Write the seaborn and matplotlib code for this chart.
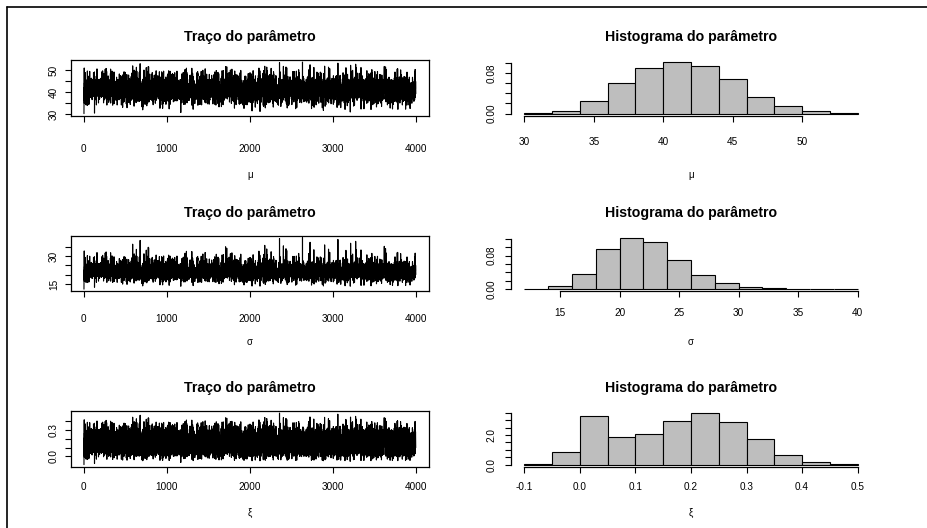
import numpy as np
import pandas as pd
import matplotlib
matplotlib.use("Agg")
import matplotlib.pyplot as plt
from matplotlib.lines import Line2D
import seaborn as sns

# histogram bins and densities
mu_edges = [30, 32, 34, 36, 38, 40, 42, 44, 46, 48, 50, 52, 54]
mu_density = [0.001, 0.006, 0.025, 0.061, 0.090, 0.102, 0.095, 0.069, 0.033, 0.016, 0.006, 0.001]

sigma_edges = [12, 14, 16, 18, 20, 22, 24, 26, 28, 30, 32, 34, 36, 38, 40]
sigma_density = [0.0002, 0.0064, 0.035, 0.094, 0.122, 0.112, 0.069, 0.034, 0.015, 0.005, 0.0024, 0.001, 0.0005, 0.0005]

xi_edges = [-0.10, -0.05, 0.00, 0.05, 0.10, 0.15, 0.20, 0.25, 0.30, 0.35, 0.40, 0.45, 0.50]
xi_density = [0.022, 0.87, 3.29, 1.86, 2.08, 2.93, 3.47, 2.89, 1.72, 0.65, 0.18, 0.02]

n_iter = 4000

# axis ticks and labels
mu_trace_yticks = [30, 35, 40, 45, 50]
mu_trace_ylabels = ["30", "", "40", "", "50"]
sigma_trace_yticks = [15, 20, 25, 30, 35]
sigma_trace_ylabels = ["15", "", "", "30", ""]
xi_trace_yticks = [0.0, 0.1, 0.2, 0.3, 0.4]
xi_trace_ylabels = ["0.0", "", "", "0.3", ""]
trace_xticks = [0, 1000, 2000, 3000, 4000]

mu_hist_xticks = [30, 35, 40, 45, 50]
mu_hist_yticks = [0.00, 0.02, 0.04, 0.06, 0.08, 0.10]
mu_hist_ylabels = ["0.00", "", "", "", "0.08", ""]
sigma_hist_xticks = [15, 20, 25, 30, 35, 40]
sigma_hist_yticks = [0.00, 0.02, 0.04, 0.06, 0.08, 0.10, 0.12]
sigma_hist_ylabels = ["0.00", "", "", "", "0.08", "", ""]
xi_hist_xticks = [-0.1, 0.0, 0.1, 0.2, 0.3, 0.4, 0.5]
xi_hist_xlabels = ["-0.1", "0.0", "0.1", "0.2", "0.3", "0.4", "0.5"]
xi_hist_yticks = [0.0, 0.5, 1.0, 1.5, 2.0, 2.5, 3.0, 3.5]
xi_hist_ylabels = ["0.0", "", "", "", "2.0", "", "", ""]


def chain_from_hist(edges, density, n):
    # spread each bin's count evenly inside the bin, then put the draws in a fixed mixed order
    edges = np.array(edges, dtype=float)
    dens = np.array(density, dtype=float)
    w = np.diff(edges)
    counts = np.round(dens * w / np.sum(dens * w) * n).astype(int)
    vals = []
    for lo, hi, c in zip(edges[:-1], edges[1:], counts):
        if c > 0:
            vals.append(lo + (np.arange(c) + 0.5) / c * (hi - lo))
    vals = np.concatenate(vals)
    idx = np.arange(len(vals), dtype=float)
    order = np.argsort((idx * idx * 0.6180339887 + idx * 0.4142135) % 1.0)
    return vals[order]


chains = {
    "mu": chain_from_hist(mu_edges, mu_density, n_iter),
    "sigma": chain_from_hist(sigma_edges, sigma_density, n_iter),
    "xi": chain_from_hist(xi_edges, xi_density, n_iter),
}

sns.set_style("ticks")
plt.rcParams["font.family"] = ["Liberation Sans", "DejaVu Sans"]
plt.rcParams["text.color"] = "black"
plt.rcParams["axes.edgecolor"] = "black"
plt.rcParams["xtick.color"] = "black"
plt.rcParams["ytick.color"] = "black"

W, H = 928, 528
fig = plt.figure(figsize=(W / 100, H / 100), dpi=100)
fig.patch.set_facecolor("white")

# outer frame: only its left and top edges fall inside the picture
fig.add_artist(Line2D([7 / W, 7 / W], [0, 1 - 7 / H], transform=fig.transFigure, color="black", lw=1.2))
fig.add_artist(Line2D([7 / W, 1], [1 - 7 / H, 1 - 7 / H], transform=fig.transFigure, color="black", lw=1.2))


def add_ax(x0, y0, x1, y1):
    return fig.add_axes([x0 / W, 1 - y1 / H, (x1 - x0) / W, (y1 - y0) / H])


def r_range(lo, hi):
    d = hi - lo
    return lo - 0.04 * d, hi + 0.04 * d


row_tops = [60, 235.5, 411]
row_h = 55.7
left_x = (70.7, 429)
right_x = (511, 871)
tick_fs = 7.2
title_fs = 10.2
trace_pads = [16, 12, 6.5]
hist_pads = [11, 7.5, 6.5]
xlabel_y = [175, 342, 513]

rows = [
    ("mu", "\u03bc", mu_edges, mu_trace_yticks, mu_trace_ylabels, mu_hist_xticks, None,
     mu_hist_yticks, mu_hist_ylabels, (30, 50)),
    ("sigma", "\u03c3", sigma_edges, sigma_trace_yticks, sigma_trace_ylabels, sigma_hist_xticks, None,
     sigma_hist_yticks, sigma_hist_ylabels, (15, 40)),
    ("xi", "\u03be", xi_edges, xi_trace_yticks, xi_trace_ylabels, xi_hist_xticks, xi_hist_xlabels,
     xi_hist_yticks, xi_hist_ylabels, (-0.1, 0.5)),
]

for r, (key, sym, edges, t_yt, t_yl, h_xt, h_xl, h_yt, h_yl, h_xb) in enumerate(rows):
    top = row_tops[r]
    vals = chains[key]
    df = pd.DataFrame({"iter": np.arange(1, len(vals) + 1), "value": vals})

    # trace plot
    ax = add_ax(left_x[0], top, left_x[1], top + row_h)
    sns.lineplot(data=df, x="iter", y="value", color="black", linewidth=0.8,
                 estimator=None, sort=False, ax=ax)
    ax.set_xlim(r_range(1, n_iter))
    ax.set_ylim(r_range(vals.min(), vals.max()))
    ax.set_xticks(trace_xticks)
    ax.set_xticklabels([str(t) for t in trace_xticks])
    ax.set_yticks(t_yt)
    ax.set_yticklabels(t_yl, rotation=90, va="center")
    ax.set_xlabel("")
    ax.set_ylabel("")
    for s in ax.spines.values():
        s.set_linewidth(0.9)
    ax.tick_params(axis="both", direction="out", length=4.5, width=0.8, labelsize=tick_fs)
    ax.tick_params(axis="x", pad=trace_pads[r])
    ax.tick_params(axis="y", pad=4)
    fig.text((left_x[0] + left_x[1]) / 2 / W, 1 - (top - 23) / H, "Traço do parâmetro",
             ha="center", va="center", fontsize=title_fs, fontweight="bold")
    fig.text((left_x[0] + left_x[1]) / 2 / W, 1 - xlabel_y[r] / H, sym,
             ha="center", va="center", fontsize=7)

    # histogram
    ax2 = add_ax(right_x[0], top, right_x[1], top + row_h)
    sns.histplot(x=vals, bins=edges, stat="density", color="#BEBEBE", edgecolor="black",
                 linewidth=0.8, alpha=1.0, ax=ax2)
    ax2.set_xlim(r_range(edges[0], edges[-1]))
    ax2.set_ylim(r_range(0, max(p.get_height() for p in ax2.patches)))
    ax2.set_xticks(h_xt)
    if h_xl is not None:
        ax2.set_xticklabels(h_xl)
    ax2.set_yticks(h_yt)
    ax2.set_yticklabels(h_yl, rotation=90, va="center")
    ax2.set_xlabel("")
    ax2.set_ylabel("")
    ax2.spines["top"].set_visible(False)
    ax2.spines["right"].set_visible(False)
    ax2.spines["bottom"].set_bounds(*h_xb)
    ax2.spines["left"].set_bounds(h_yt[0], h_yt[-1])
    for s in ax2.spines.values():
        s.set_linewidth(0.9)
    ax2.tick_params(axis="both", direction="out", length=4.5, width=0.8, labelsize=tick_fs)
    ax2.tick_params(axis="x", pad=hist_pads[r])
    ax2.tick_params(axis="y", pad=6)
    fig.text((right_x[0] + right_x[1]) / 2 / W, 1 - (top - 23) / H, "Histograma do parâmetro",
             ha="center", va="center", fontsize=title_fs, fontweight="bold")
    fig.text((right_x[0] + right_x[1]) / 2 / W, 1 - xlabel_y[r] / H, sym,
             ha="center", va="center", fontsize=7)

fig.savefig("out.png", dpi=100)
